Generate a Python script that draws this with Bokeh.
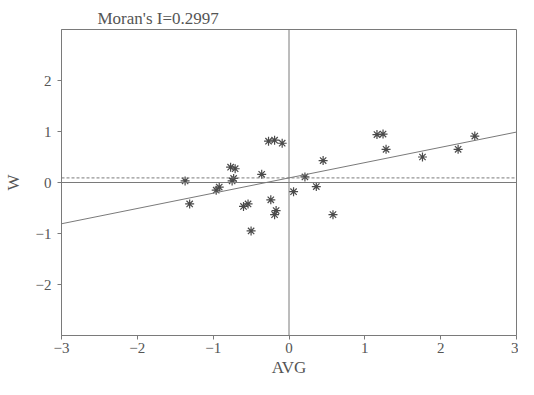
from bokeh.plotting import figure
from bokeh.models import Range1d, Span, Slope, FixedTicker
from bokeh.embed import file_html
from bokeh.resources import INLINE

# ---- data ----
avg_values = [-1.37, -1.31, -0.96, -0.92, -0.77, -0.71, -0.75, -0.73, -0.60, -0.54,
              -0.50, -0.36, -0.27, -0.19, -0.09, -0.24, -0.17, -0.19, 0.06, 0.21,
              0.36, 0.45, 0.58, 1.16, 1.24, 1.28, 1.76, 2.23, 2.45]
w_values = [0.03, -0.42, -0.15, -0.09, 0.30, 0.27, 0.03, 0.08, -0.47, -0.42,
            -0.95, 0.16, 0.81, 0.83, 0.77, -0.34, -0.55, -0.63, -0.18, 0.11,
            -0.08, 0.43, -0.63, 0.94, 0.95, 0.65, 0.50, 0.65, 0.91]
moran_i = 0.2997
w_mean = 0.09
x_ticks = [-3, -2, -1, 0, 1, 2, 3]
x_tick_labels = ["\u22123", "\u22122", "\u22121", "0", "1", "2", "3"]
y_ticks = [-2, -1, 0, 1, 2]
y_tick_labels = ["\u22122", "\u22121", "0", "1", "2"]
title_text = "Moran's I=0.2997"

FONT = "Liberation Serif"
GRAY = "#7a7a7a"
TEXT = "#555555"

p = figure(width=518, height=379, output_backend="svg", toolbar_location=None,
           x_range=Range1d(-3, 3), y_range=Range1d(-3, 3),
           min_border_left=61, min_border_right=2, min_border_top=29, min_border_bottom=40)
p.grid.visible = False
p.outline_line_color = GRAY
p.outline_line_width = 1
p.background_fill_color = "white"
p.border_fill_color = "white"

p.title.text = title_text
p.title.text_font = FONT
p.title.text_font_size = "17px"
p.title.text_font_style = "normal"
p.title.text_color = TEXT
p.title.align = "left"
p.title.offset = 36
p.title.standoff = 4

for ax in (p.xaxis, p.yaxis):
    ax.axis_line_color = GRAY
    ax.major_tick_line_color = GRAY
    ax.minor_tick_line_color = None
    ax.major_tick_out = 4
    ax.major_tick_in = 0
    ax.major_label_text_font = FONT
    ax.major_label_text_font_size = "15px"
    ax.major_label_text_color = TEXT
    ax.axis_label_text_font = FONT
    ax.axis_label_text_font_size = "17px"
    ax.axis_label_text_font_style = "normal"
    ax.axis_label_text_color = TEXT

p.xaxis.ticker = FixedTicker(ticks=x_ticks)
p.xaxis.major_label_overrides = {t: l for t, l in zip(x_ticks, x_tick_labels)}
p.yaxis.ticker = FixedTicker(ticks=y_ticks)
p.yaxis.major_label_overrides = {t: l for t, l in zip(y_ticks, y_tick_labels)}
p.xaxis.axis_label = "AVG"
p.yaxis.axis_label = "W"
p.xaxis.major_label_standoff = 3
p.xaxis.axis_label_standoff = 2
p.yaxis.major_label_standoff = 6
p.yaxis.axis_label_standoff = 10

# reference lines
p.add_layout(Span(location=0, dimension="height", line_color=GRAY, line_width=1))
p.add_layout(Span(location=0, dimension="width", line_color=GRAY, line_width=1))
p.add_layout(Span(location=w_mean, dimension="width", line_color=GRAY, line_width=1,
                  line_dash="3 2"))
p.add_layout(Slope(gradient=moran_i, y_intercept=w_mean, line_color=GRAY, line_width=1))

p.scatter(avg_values, w_values, marker="asterisk", size=9, line_color="#4a4a4a",
          line_width=1.2)

open("out.html", "w").write(file_html(p, INLINE))
